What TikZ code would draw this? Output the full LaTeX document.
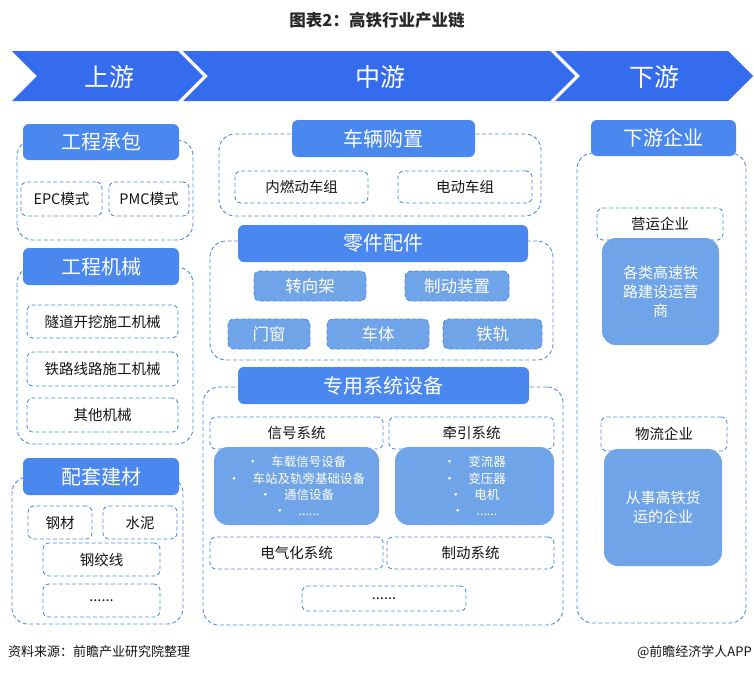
\documentclass[tikz,border=0pt]{standalone}
\usepackage{fontspec}
\setmainfont{Noto Sans CJK SC}
\definecolor{bannerblue}{RGB}{53,108,238}
\definecolor{hdrblue}{RGB}{74,136,240}
\definecolor{lightblue}{RGB}{112,164,232}
\definecolor{dashblue}{RGB}{80,140,235}
\definecolor{txt}{RGB}{20,20,20}
\newcommand\bx[7]{\node[#6, minimum width={(#4-#2)*1pt}, minimum height={(#5-#3)*1pt}] (#1) at ({(#2+#4)/2},{(#3+#5)/2}) {#7};}
\tikzset{
  banner/.style={fill=bannerblue},
  bantext/.style={text=white, font=\fontsize{25}{29}\selectfont, inner sep=0pt},
  hdr/.style={fill=hdrblue, rounded corners=6pt, text=white, font=\fontsize{20}{23}\selectfont, inner sep=0pt, outer sep=0pt},
  cont/.style={draw=dashblue, line width=0.9pt, dash pattern=on 4pt off 2.5pt, rounded corners=16pt, inner sep=0pt, outer sep=0pt},
  sub/.style={draw=dashblue, line width=0.9pt, dash pattern=on 4pt off 2.5pt, rounded corners=6pt, fill=white, text=txt, font=\fontsize{14.5}{17}\selectfont, inner sep=0pt, outer sep=0pt},
  subf/.style={sub, fill=lightblue, text=white, font=\fontsize{16.5}{19}\selectfont},
  fillbox/.style={fill=lightblue, rounded corners=14pt, text=white, inner sep=0pt, outer sep=0pt, align=center},
}
\begin{document}
\begin{tikzpicture}[x=1pt,y=-1pt]
\useasboundingbox[fill=white] (0,0) rectangle (754,673);
% title
\node[font=\bfseries\fontsize{16.5}{19}\selectfont, text={rgb,255:red,40;green,40;blue,40}] (title) at (377,20) {图表2：高铁行业产业链};
% banner
\fill[banner] (12,51) -- (178,51) -- (203,76) -- (178,101) -- (12,101) -- (37,76) -- cycle;
\fill[banner] (183,51) -- (550,51) -- (575,76) -- (550,101) -- (183,101) -- (208,76) -- cycle;
\fill[banner] (555,51) -- (728,51) -- (753,76) -- (728,101) -- (555,101) -- (580,76) -- cycle;
\node[bantext] (up) at (109,77) {上游};
\node[bantext] (mid) at (380,77) {中游};
\node[bantext] (down) at (654,77) {下游};
% ---------- left column ----------
\bx{c1}{17}{140}{193}{240}{cont}{}
\bx{h1}{23}{124}{179}{160}{hdr}{工程承包}
\bx{epc}{21}{182}{102}{216}{sub}{EPC模式}
\bx{pmc}{109}{182}{189}{216}{sub}{PMC模式}
\bx{c2}{17}{267}{193}{444}{cont}{}
\bx{h2}{23}{248}{179}{285}{hdr}{工程机械}
\bx{m1}{27}{305}{178}{338}{sub}{隧道开挖施工机械}
\bx{m2}{27}{352}{178}{386}{sub}{铁路线路施工机械}
\bx{m3}{27}{398}{178}{432}{sub}{其他机械}
\bx{c3}{12}{477}{183}{624}{cont}{}
\bx{h3}{23}{458}{179}{495}{hdr}{配套建材}
\bx{gc}{28}{506}{92}{539}{sub}{钢材}
\bx{sn}{103}{506}{177}{539}{sub}{水泥}
\bx{gjx}{43}{543}{160}{576}{sub}{钢绞线}
\bx{ld}{43}{584}{160}{617}{sub}{......}
% ---------- middle column ----------
\bx{c4}{219}{134}{541}{216}{cont}{}
\bx{h4}{292}{120}{475}{157}{hdr}{车辆购置}
\bx{nr}{235}{171}{368}{203}{sub}{内燃动车组}
\bx{dd}{398}{171}{532}{203}{sub}{电动车组}
\bx{c5}{210}{241}{553}{360}{cont}{}
\bx{h5}{238}{225}{528}{262}{hdr}{零件配件}
\bx{zxj}{254}{271}{366}{301}{subf}{转向架}
\bx{zdzz}{405}{271}{509}{301}{subf}{制动装置}
\bx{mc}{228}{319}{310}{349}{subf}{门窗}
\bx{ct}{327}{319}{429}{349}{subf}{车体}
\bx{tg}{443}{319}{542}{349}{subf}{铁轨}
\bx{c6}{203}{387}{563}{625}{cont}{}
\bx{h6}{238}{367}{529}{404}{hdr}{专用系统设备}
\bx{xh}{210}{417}{383}{449}{sub}{信号系统}
\bx{qy}{389}{417}{554}{449}{sub}{牵引系统}
\bx{xhf}{214}{447}{379}{525}{fillbox, font=\fontsize{12.5}{16.2}\selectfont}{•\quad 车载信号设备\\•\quad 车站及轨旁基础设备\\•\quad 通信设备\\•\quad ......}
\bx{qyf}{395}{447}{554}{525}{fillbox, font=\fontsize{12.5}{16.2}\selectfont}{•\quad 变流器\\•\quad 变压器\\•\quad 电机\\•\quad ......}
\bx{dqh}{210}{537}{383}{569}{sub}{电气化系统}
\bx{zd}{387}{537}{554}{569}{sub}{制动系统}
\bx{ld2}{302}{586}{466}{611}{sub}{......}
% ---------- right column ----------
\bx{c7}{577}{153}{746}{623}{cont}{}
\bx{h7}{591}{120}{736}{156}{hdr}{下游企业}
\bx{yy}{597}{208}{723}{240}{sub}{营运企业}
\bx{yyf}{602}{238}{719}{345}{fillbox, font=\fontsize{15}{19}\selectfont}{各类高速铁\\路建设运营\\商}
\bx{wl}{601}{417}{727}{451}{sub}{物流企业}
\bx{wlf}{604}{449}{722}{566}{fillbox, font=\fontsize{15}{19}\selectfont}{从事高铁货\\运的企业}
% footer
\node[anchor=west, font=\fontsize{13}{15}\selectfont, text=txt, inner sep=0pt] (src) at (8,652) {资料来源：前瞻产业研究院整理};
\node[anchor=east, font=\fontsize{13}{15}\selectfont, text=txt, inner sep=0pt] (app) at (752,652) {@前瞻经济学人APP};
\end{tikzpicture}
\end{document}
